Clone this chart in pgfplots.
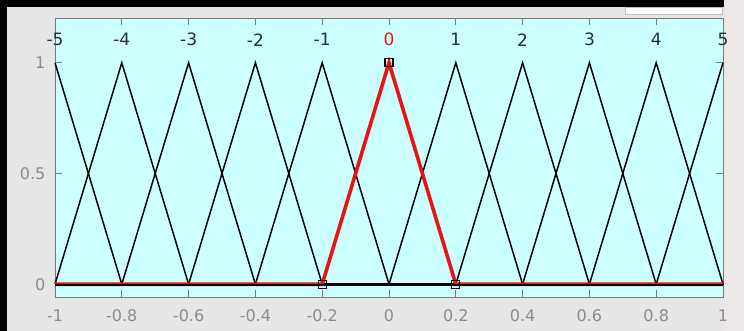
\documentclass[border=0pt]{standalone}
\usepackage{pgfplots}
\pgfplotsset{compat=1.18}
\usepackage{fontspec}
\setmainfont{DejaVu Sans}

\definecolor{bgcyan}{HTML}{CCFFFF}
\definecolor{figgray}{HTML}{E6E6E6}
\definecolor{stripgray}{HTML}{ECE8E8}
\definecolor{framegray}{HTML}{7A7A7A}
\definecolor{labelgray}{HTML}{8C8C8C}
\definecolor{mfname}{HTML}{283030}
\definecolor{mfred}{HTML}{E81414}

\begin{document}
\begin{tikzpicture}[x=0.5pt,y=0.5pt]
% window background, frame edges and the small edit box
\fill[figgray] (0,0) rectangle (744,331);
\fill[stripgray] (725,0) rectangle (744,331);
\fill[black] (0,0) rectangle (7,331);
\fill[black] (0,324) rectangle (724,331);
\filldraw[fill=white, draw=gray!50, line width=0.4pt] (625,317) rectangle (722,324);

\begin{axis}[
  at={(27.5pt,16.75pt)}, anchor=south west,
  scale only axis, width=334pt, height=139.5pt,
  xmin=-1, xmax=1, ymin=-0.06, ymax=1.2,
  clip=false,
  axis background/.style={fill=bgcyan},
  axis line style={draw=framegray, line width=0.5pt},
  tick style={draw=framegray, line width=0.5pt},
  tick align=inside, major tick length=3.5pt,
  xtick={-1,-0.8,-0.6,-0.4,-0.2,0,0.2,0.4,0.6,0.8,1},
  xticklabels={-1,-0.8,-0.6,-0.4,-0.2,0,0.2,0.4,0.6,0.8,1},
  xtick pos=both, xticklabel pos=lower,
  ytick={0,0.5,1}, yticklabels={0,0.5,1},
  ytick pos=both, yticklabel pos=left,
  ticklabel style={font=\fontsize{8}{9}\selectfont, text=labelgray},
  xticklabel style={yshift=-2.4pt},
  yticklabel style={xshift=-1.3pt},
]
% membership functions mf -5 ... mf 5 (triangles of half-width 0.2)
\pgfplotsset{mfline/.style={black, line width=0.75pt}}
\addplot[mfline] coordinates {(-1,1)(-0.8,0)(1,0)};
\addplot[mfline] coordinates {(-1,0)(-0.8,1)(-0.6,0)(1,0)};
\addplot[mfline] coordinates {(-1,0)(-0.8,0)(-0.6,1)(-0.4,0)(1,0)};
\addplot[mfline] coordinates {(-1,0)(-0.6,0)(-0.4,1)(-0.2,0)(1,0)};
\addplot[mfline] coordinates {(-1,0)(-0.4,0)(-0.2,1)(0,0)(1,0)};
\addplot[mfline] coordinates {(-1,0)(0,0)(0.2,1)(0.4,0)(1,0)};
\addplot[mfline] coordinates {(-1,0)(0.2,0)(0.4,1)(0.6,0)(1,0)};
\addplot[mfline] coordinates {(-1,0)(0.4,0)(0.6,1)(0.8,0)(1,0)};
\addplot[mfline] coordinates {(-1,0)(0.6,0)(0.8,1)(1,0)};
\addplot[mfline] coordinates {(-1,0)(0.8,0)(1,1)};
% selected membership function (mf 0)
\addplot[mfred, line width=1.8pt] coordinates {(-1,0)(-0.2,0)(0,1)(0.2,0)(1,0)};
\addplot[mfline, yshift=-0.4pt] coordinates {(-1,0)(1,0)};
\addplot[only marks, mark=square, mark size=2pt, black, line width=0.6pt]
  coordinates {(-0.2,0)(0,1)(0.2,0)};
% names of the membership functions above their peaks
\begin{scope}[every node/.style={font=\fontsize{8.5}{9}\selectfont, text=mfname}]
\node at (axis cs:-1,1.104) {-5};
\node at (axis cs:-0.8,1.104) {-4};
\node at (axis cs:-0.6,1.104) {-3};
\node at (axis cs:-0.4,1.104) {-2};
\node at (axis cs:-0.2,1.104) {-1};
\node[text=mfred] at (axis cs:0,1.104) {0};
\node at (axis cs:0.2,1.104) {1};
\node at (axis cs:0.4,1.104) {2};
\node at (axis cs:0.6,1.104) {3};
\node at (axis cs:0.8,1.104) {4};
\node at (axis cs:1,1.104) {5};
\end{scope}
\end{axis}
\end{tikzpicture}
\end{document}
